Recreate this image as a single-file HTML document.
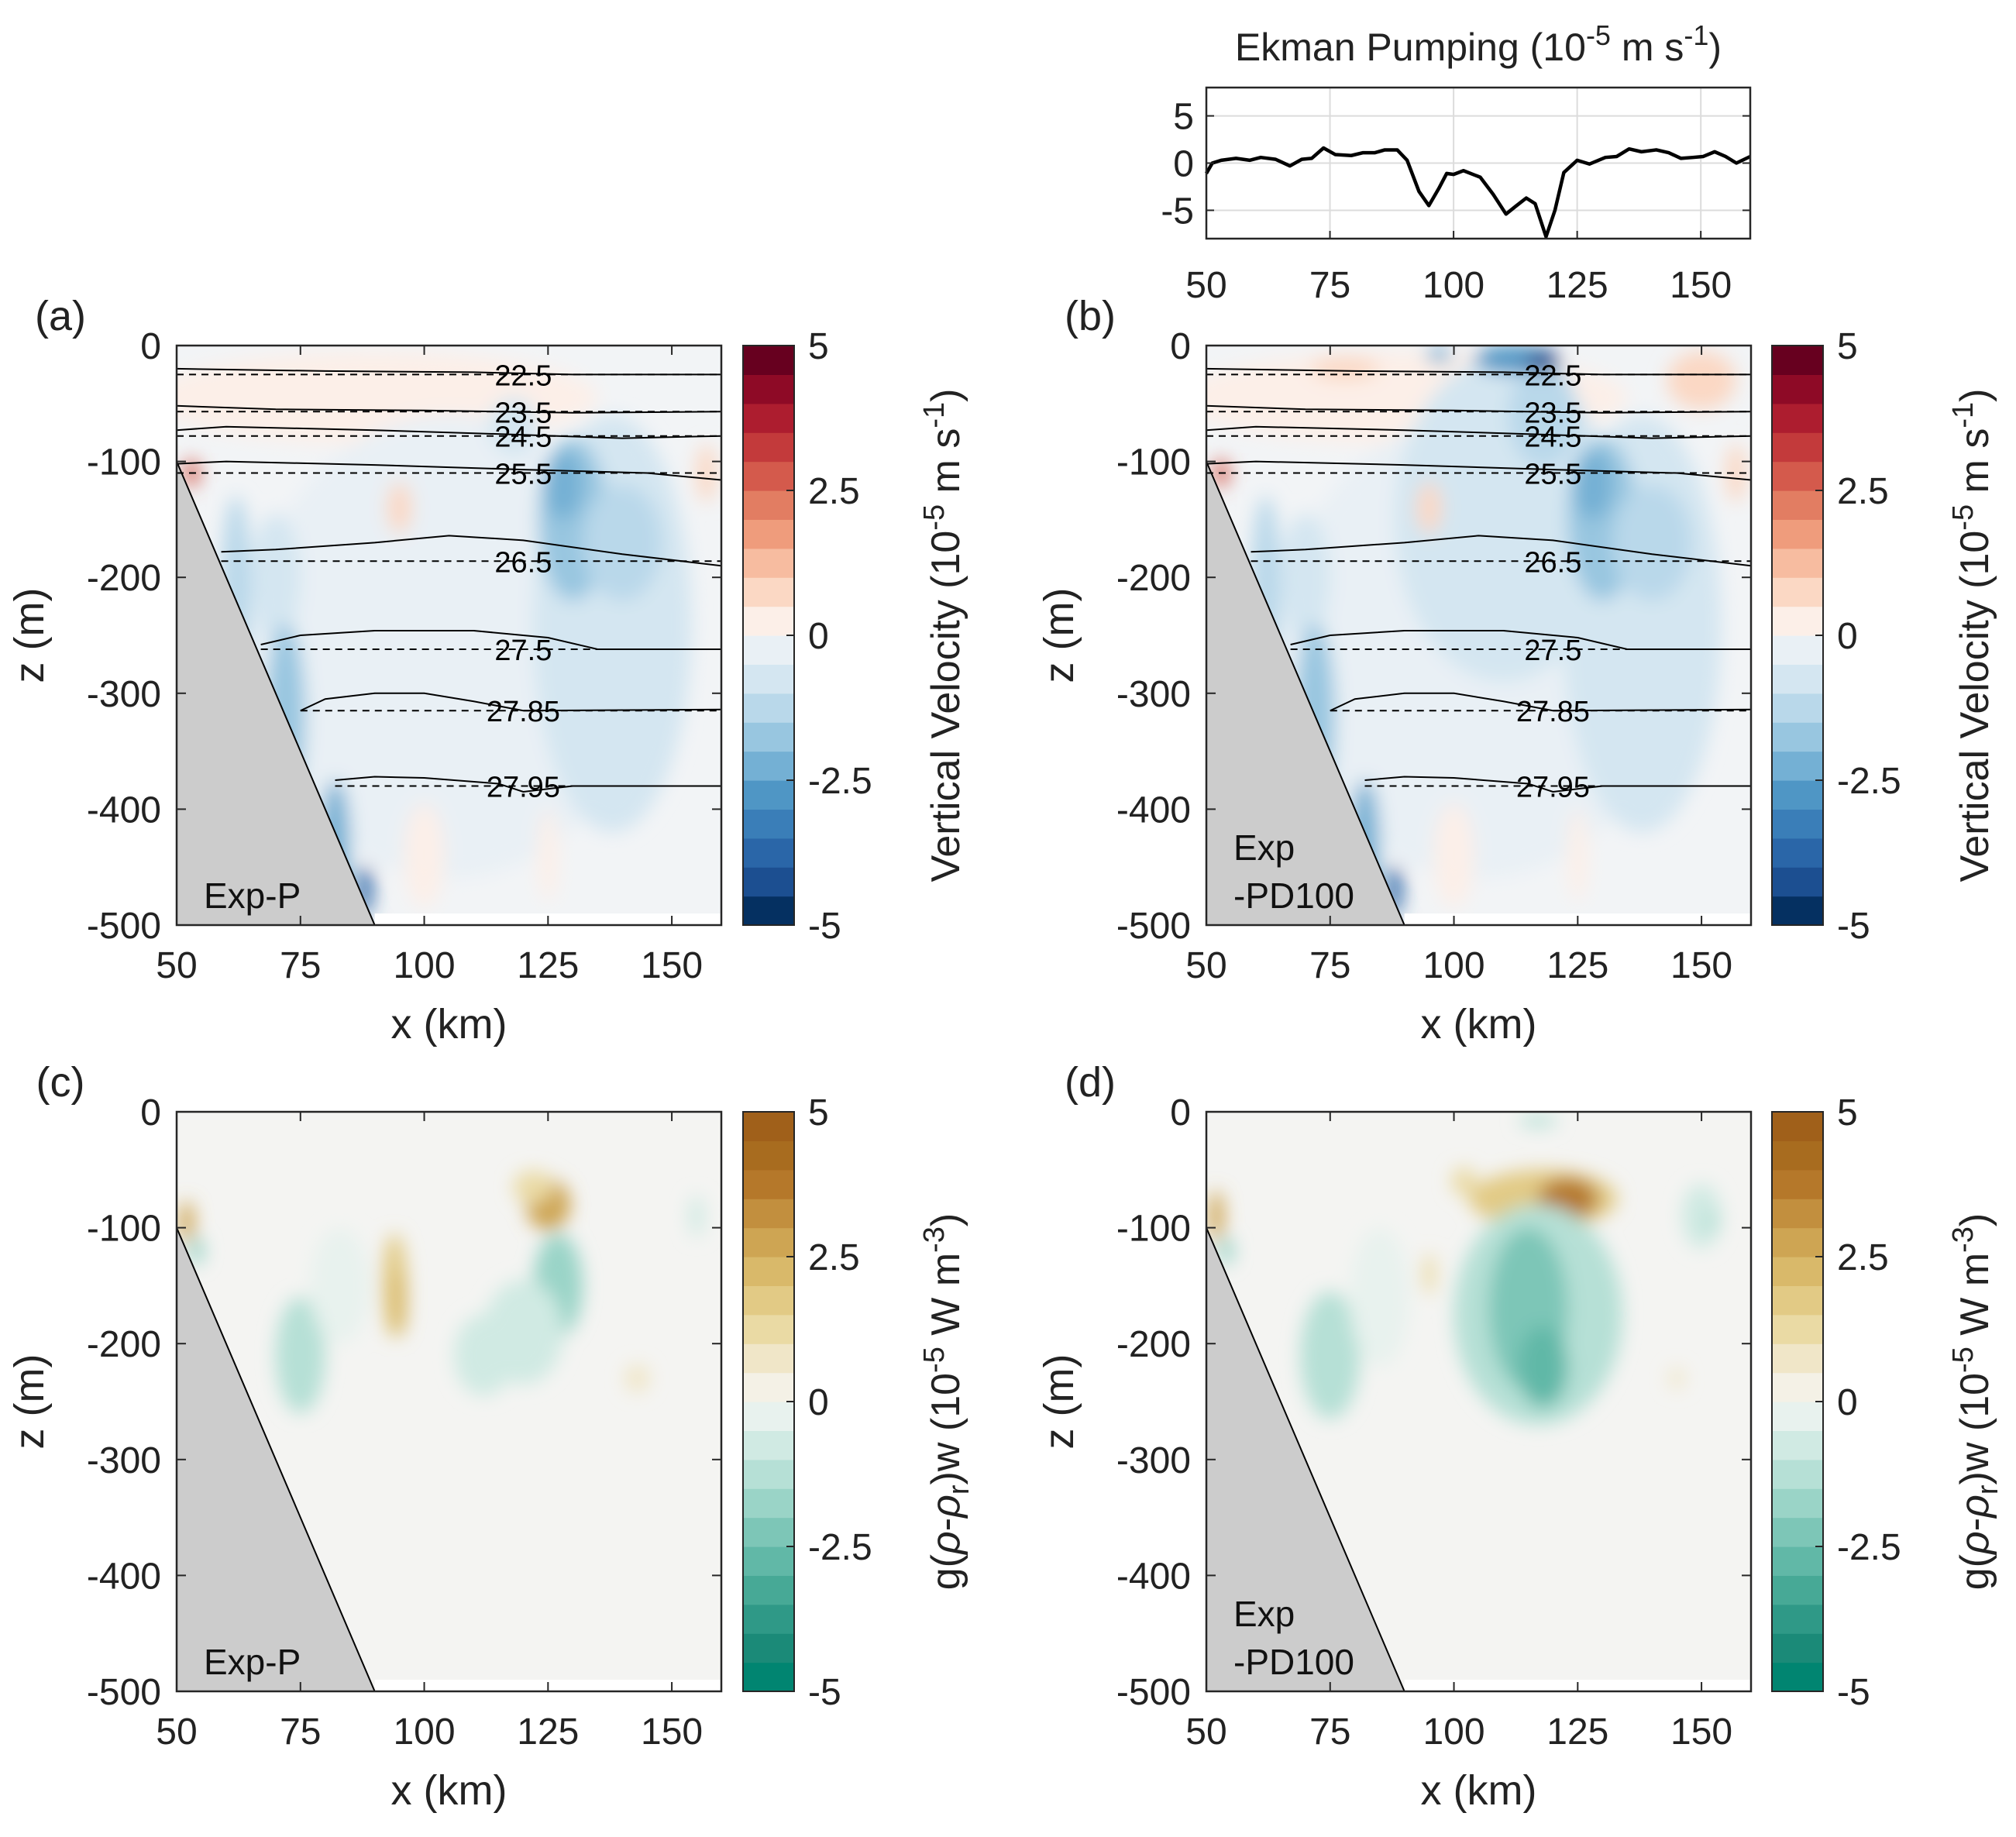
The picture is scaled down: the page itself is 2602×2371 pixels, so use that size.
<!DOCTYPE html>
<html><head><meta charset="utf-8">
<style>
html,body{margin:0;padding:0;background:#fff;}
svg{display:block;font-family:"Liberation Sans",sans-serif;}
</style></head>
<body>
<svg id="fig" xmlns="http://www.w3.org/2000/svg" width="2602" height="2371" viewBox="0 0 2602 2371">
<defs>
<filter id="blur" x="-50%" y="-50%" width="200%" height="200%"><feGaussianBlur stdDeviation="12"/></filter>
</defs>
</svg>
<script>
// ===== Data =====
const ekX = [50,51.2,53,56,58.8,61,64,66.9,69.3,71.3,73.7,76.1,79.3,81.7,84.1,86.1,88.6,90.6,93,95,97,98.6,100,102,105.4,108,110.6,112.5,114.7,116.5,118.7,120.5,122.3,125,127.5,130.7,133,135.5,138,141,143.5,146,148.4,150.5,152.8,155,157.2,160];
const ekW = [-1.1,0,0.3,0.5,0.3,0.6,0.4,-0.3,0.4,0.5,1.6,0.9,0.8,1.1,1.1,1.4,1.4,0.3,-3,-4.5,-2.7,-1.1,-1.2,-0.8,-1.5,-3.3,-5.4,-4.6,-3.7,-4.3,-7.8,-5,-1,0.3,-0.1,0.6,0.7,1.5,1.2,1.4,1.1,0.5,0.6,0.7,1.2,0.7,0,0.7];
const ekYTicks = [5,0,-5];
const xTicks = [50,75,100,125,150];
const zTicks = [0,-100,-200,-300,-400,-500];
const cbTicks = [5,2.5,0,-2.5,-5];

// blobs: [x km, z m, rx km, rz m, value]
const blobsA = [[90,-45,45,40,0.3],[105,-260,40,200,-0.5],[138,-240,16,180,-0.9],[130,-150,7,70,-1.8],[128,-120,4,30,-2.4],[140,-170,8,50,-1.3],[118,-70,5,25,-0.8],[95,-140,2.5,22,0.7],[100,-440,4,45,0.3],[125,-440,2,40,0.3],[157,-110,2,25,0.6],[70,-200,5,55,-0.7],[62,-210,3,80,-1.1],[72,-320,4,80,-1.6],[82,-430,3,55,-2.2],[88,-470,1.5,22,-4],[53,-110,1.5,12,2.8]];
const blobsB = [[90,-45,45,40,0.3],[105,-260,40,200,-0.5],[110,-150,22,140,-0.9],[138,-240,16,180,-0.9],[130,-150,7,70,-1.8],[128,-120,4,30,-2.4],[140,-170,8,50,-1.3],[118,-60,7,45,-1.4],[78,-20,7,10,0.7],[150,-30,7,25,0.7],[112,-12,8,12,-2.8],[118,-14,3.5,10,-4.5],[97,-8,2.5,7,-2.5],[95,-140,2.5,22,0.7],[100,-440,4,45,0.3],[125,-440,2,40,0.3],[157,-110,2,25,0.6],[70,-200,5,55,-0.7],[62,-210,3,80,-1.1],[72,-320,4,80,-1.6],[82,-430,3,55,-2.2],[88,-470,1.5,22,-4],[53,-110,1.5,12,2.8]];
const blobsC = [[125,-80,4.5,22,2.8],[122,-65,4,14,1.4],[94,-150,2.5,45,1.6],[95,-165,1.5,28,2.3],[127,-150,5,45,-2.0],[120,-190,8,45,-0.8],[112,-210,6,35,-0.9],[75,-210,5,50,-1.1],[83,-150,6,50,-0.4],[143,-230,2.5,12,0.5],[52,-95,1.5,18,2.8],[54,-120,1.5,12,-1.8],[155,-90,1.5,18,-0.6]];
const blobsD = [[118,-75,15,25,1.8],[123,-75,6,18,3.8],[102,-60,2.5,12,1.3],[117,-175,17,95,-1.2],[115,-170,8,70,-2.2],[118,-220,5,35,-2.7],[117,-8,4,5,-1.3],[150,-90,4,28,-0.6],[152,-95,1.5,9,-1.2],[75,-210,6,55,-1.1],[85,-160,6,60,-0.4],[95,-140,1.2,18,1.2],[145,-230,1.5,9,0.5],[52,-90,1.5,22,2.8],[54,-120,1.5,12,-1.8]];

// density contours (solid) and reference (dashed)
const sigLabels = ["22.5","23.5","24.5","25.5","26.5","27.5","27.85","27.95"];
const sigSolid = [
 [[50,-20],[80,-22],[110,-23],[130,-25],[160,-25]],
 [[50,-52],[70,-55],[100,-56],[130,-58],[160,-57]],
 [[50,-73],[60,-70],[90,-73],[120,-77],[140,-80],[160,-78]],
 [[50,-102],[60,-100],[90,-103],[120,-107],[145,-110],[160,-116]],
 [[59,-178],[70,-176],[90,-170],[105,-164],[120,-168],[140,-180],[160,-190]],
 [[67,-258],[75,-250],[90,-246],[110,-246],[125,-252],[135,-262],[160,-262]],
 [[75,-315],[80,-305],[90,-300],[100,-300],[110,-307],[120,-315],[160,-314]],
 [[82,-375],[90,-372],[100,-373],[115,-378],[120,-385],[130,-380],[160,-380]]];
const sigRefZ = [-25,-57,-78,-110,-186,-262,-315,-380];
const sigRefX0 = [50,50,50,50,59,67,75,82];

const rdbu = ["#053061","#1c4f91","#2a66a8","#3a7eb8","#4f96c5","#74b0d4","#98c6e0","#b9d8ea","#d4e6f1","#e9f0f5","#fcefe8","#fbd8c4","#f7bca0","#ef9c7c","#e27d62","#d45a4c","#c33a3b","#ad1d2f","#8e0a26","#67001f"];
const brbg = ["#018571","#1b8a78","#2f9987","#47a996","#61b8a7","#7dc6b7","#9ad4c7","#b6e0d6","#d0eae3","#e8f2ee","#f4f1e6","#f0e6c8","#eadaa4","#e2ca85","#d9b96a","#cea553","#c28f3e","#b5782a","#a86c1f","#a0601a"];

// ===== Drawing =====
const NS="http://www.w3.org/2000/svg";
const svg=document.getElementById('fig');
function el(tag,attrs,parent){const e=document.createElementNS(NS,tag);for(const k in attrs)e.setAttribute(k,attrs[k]);(parent||svg).appendChild(e);return e;}
function txt(s,x,y,size,anchor,parent,extra){const t=el('text',Object.assign({x:x,y:y,'font-size':size,'text-anchor':anchor||'middle',fill:'#222'},extra||{}),parent);t.textContent=s;return t;}
function colorOf(v,cmap){let i=Math.floor((v+5)/0.5);i=Math.max(0,Math.min(19,i));return cmap[i];}

const W=703,H=748;
function panel(id,L,T,blobs,cmap,bg,showSig,expLabel,letter,cbx,cbLabel,cbLabelX){
  const xs=x=>L+(x-50)/110*W, zs=z=>T+(-z)/500*H;
  const g=el('g',{});
  
  
  el('clipPath',{id:'clip'+id},g).appendChild(el('rect',{x:L,y:T,width:W,height:H},g));
  const field=el('g',{'clip-path':'url(#clip'+id+')'},g);
  
  
  el('rect',{x:L,y:T,width:W,height:H,fill:bg},field);
  const bl=el('g',{filter:'url(#blur)'},field);
  blobs.forEach(b=>{
    const e=el('ellipse',{cx:xs(b[0]),cy:zs(b[1]),rx:b[2]/110*W,ry:b[3]/500*H,fill:colorOf(b[4],cmap)},bl);
    
    
  });
  el('rect',{x:xs(90),y:zs(-490),width:xs(160)-xs(90),height:zs(-500)-zs(-490),fill:'#fff'},field);
  const bath=el('polygon',{points:`${xs(50)},${zs(-100)} ${xs(90)},${zs(-500)} ${xs(50)},${zs(-500)}`,fill:'#cccccc',stroke:'#000','stroke-width':2},field);
  
  
  if(showSig){
    sigSolid.forEach((pts,i)=>{
      const p=el('polyline',{points:pts.map(q=>xs(q[0])+','+zs(q[1])).join(' '),fill:'none',stroke:'#000','stroke-width':2},field);
      
      
      const d=el('line',{x1:xs(sigRefX0[i]),x2:xs(160),y1:zs(sigRefZ[i]),y2:zs(sigRefZ[i]),stroke:'#000','stroke-width':2,'stroke-dasharray':'9,7'},field);
      
      
      const t=txt(sigLabels[i],xs(120),zs(sigRefZ[i])+14,38,'middle',field,{fill:'#000'});
      
      
    });
  }
  const lines=expLabel.split('|');
  lines.forEach((s,i)=>{const t=txt(s,L+35,T+H-(lines.length-1-i)*62-22,46,'start',g,{fill:'#111'});
    });
  el('rect',{x:L,y:T,width:W,height:H,fill:'none',stroke:'#262626','stroke-width':2.5},g);
  xTicks.forEach(v=>{const x=xs(v);
    el('line',{x1:x,x2:x,y1:T+H,y2:T+H-12,stroke:'#262626','stroke-width':2},g);
    el('line',{x1:x,x2:x,y1:T,y2:T+12,stroke:'#262626','stroke-width':2},g);
    const t=txt(String(v),x,T+H+68,48,'middle',g);});
  zTicks.forEach(v=>{const y=zs(v);
    el('line',{x1:L,x2:L+12,y1:y,y2:y,stroke:'#262626','stroke-width':2},g);
    el('line',{x1:L+W,x2:L+W-12,y1:y,y2:y,stroke:'#262626','stroke-width':2},g);
    const t=txt(String(v),L-20,y+17,48,'end',g);});
  const xl=txt('x (km)',L+W/2,T+H+146,54,'middle',g);
  const yl=txt('z (m)',0,0,54,'middle',g,{transform:`translate(${L-172},${T+H/2}) rotate(-90)`});
  const pl=txt(letter,L-150,T-20,54,'middle',g);
  const cb=el('g',{},g);
  const cw=66,bh=H/20;
  for(let i=0;i<20;i++){el('rect',{x:cbx,y:T+H-(i+1)*bh,width:cw,height:bh+0.6,fill:cmap[i]},cb);}
  el('rect',{x:cbx,y:T,width:cw,height:H,fill:'none',stroke:'#262626','stroke-width':2},cb);
  cbTicks.forEach(v=>{const y=T+(5-v)/10*H;
    el('line',{x1:cbx+cw,x2:cbx+cw-10,y1:y,y2:y,stroke:'#262626','stroke-width':2},cb);
    const t=txt(String(v),cbx+cw+18,y+17,48,'start',cb);});
  const cl=el('text',{x:0,y:0,'font-size':52,'text-anchor':'middle',fill:'#222',transform:`translate(${cbLabelX},${T+H/2}) rotate(-90)`},g);
  
  cl.innerHTML=cbLabel;
}
const vvLabel='Vertical Velocity (10<tspan dy="-20" font-size="38">-5</tspan><tspan dy="20"> m s</tspan><tspan dy="-20" font-size="38">-1</tspan><tspan dy="20">)</tspan>';
const bfLabel='g(<tspan font-style="italic">ρ</tspan>-<tspan font-style="italic">ρ</tspan><tspan dy="12" font-size="38">r</tspan><tspan dy="-12">)w (10</tspan><tspan dy="-20" font-size="38">-5</tspan><tspan dy="20"> W m</tspan><tspan dy="-20" font-size="38">-3</tspan><tspan dy="20">)</tspan>';
panel('a',228,446,blobsA,rdbu,'#f2f4f6',true,'Exp-P','(a)',959,vvLabel,1238);
panel('b',1557,446,blobsB,rdbu,'#f2f4f6',true,'Exp|-PD100','(b)',2287,vvLabel,2566);
panel('c',228,1435,blobsC,brbg,'#f4f4f2',false,'Exp-P','(c)',959,bfLabel,1238);
panel('d',1557,1435,blobsD,brbg,'#f4f4f2',false,'Exp|-PD100','(d)',2287,bfLabel,2566);

// Ekman panel
(function(){
  const L=1557,T=113,EW=702,EH=195;
  const xs=x=>L+(x-50)/110*EW, ys=v=>T+(8-v)/16*EH;
  const g=el('g',{});
  el('rect',{x:L,y:T,width:EW,height:EH,fill:'#fff'},g);
  xTicks.forEach(v=>{el('line',{x1:xs(v),x2:xs(v),y1:T,y2:T+EH,stroke:'#dcdcdc','stroke-width':2},g);});
  ekYTicks.forEach(v=>{el('line',{x1:L,x2:L+EW,y1:ys(v),y2:ys(v),stroke:'#dcdcdc','stroke-width':2},g);});
  const line=el('polyline',{points:ekX.map((x,i)=>xs(x)+','+ys(ekW[i])).join(' '),fill:'none',stroke:'#000','stroke-width':4.5,'stroke-linejoin':'round'},g);
  
  el('rect',{x:L,y:T,width:EW,height:EH,fill:'none',stroke:'#262626','stroke-width':2.5},g);
  xTicks.forEach(v=>{el('line',{x1:xs(v),x2:xs(v),y1:T+EH,y2:T+EH-10,stroke:'#262626','stroke-width':2},g);
    const t=txt(String(v),xs(v),T+EH+76,48,'middle',g);});
  ekYTicks.forEach(v=>{el('line',{x1:L,x2:L+10,y1:ys(v),y2:ys(v),stroke:'#262626','stroke-width':2},g);
    el('line',{x1:L+EW,x2:L+EW-10,y1:ys(v),y2:ys(v),stroke:'#262626','stroke-width':2},g);
    const t=txt(String(v),L-16,ys(v)+17,48,'end',g);});
  const tt=el('text',{x:1908,y:78,'font-size':50,'text-anchor':'middle',fill:'#222'},g);
  
  tt.innerHTML='Ekman Pumping (10<tspan dy="-20" font-size="36">-5</tspan><tspan dy="20"> m s</tspan><tspan dy="-20" font-size="36">-1</tspan><tspan dy="20">)</tspan>';
})();
</script>
</body></html>
